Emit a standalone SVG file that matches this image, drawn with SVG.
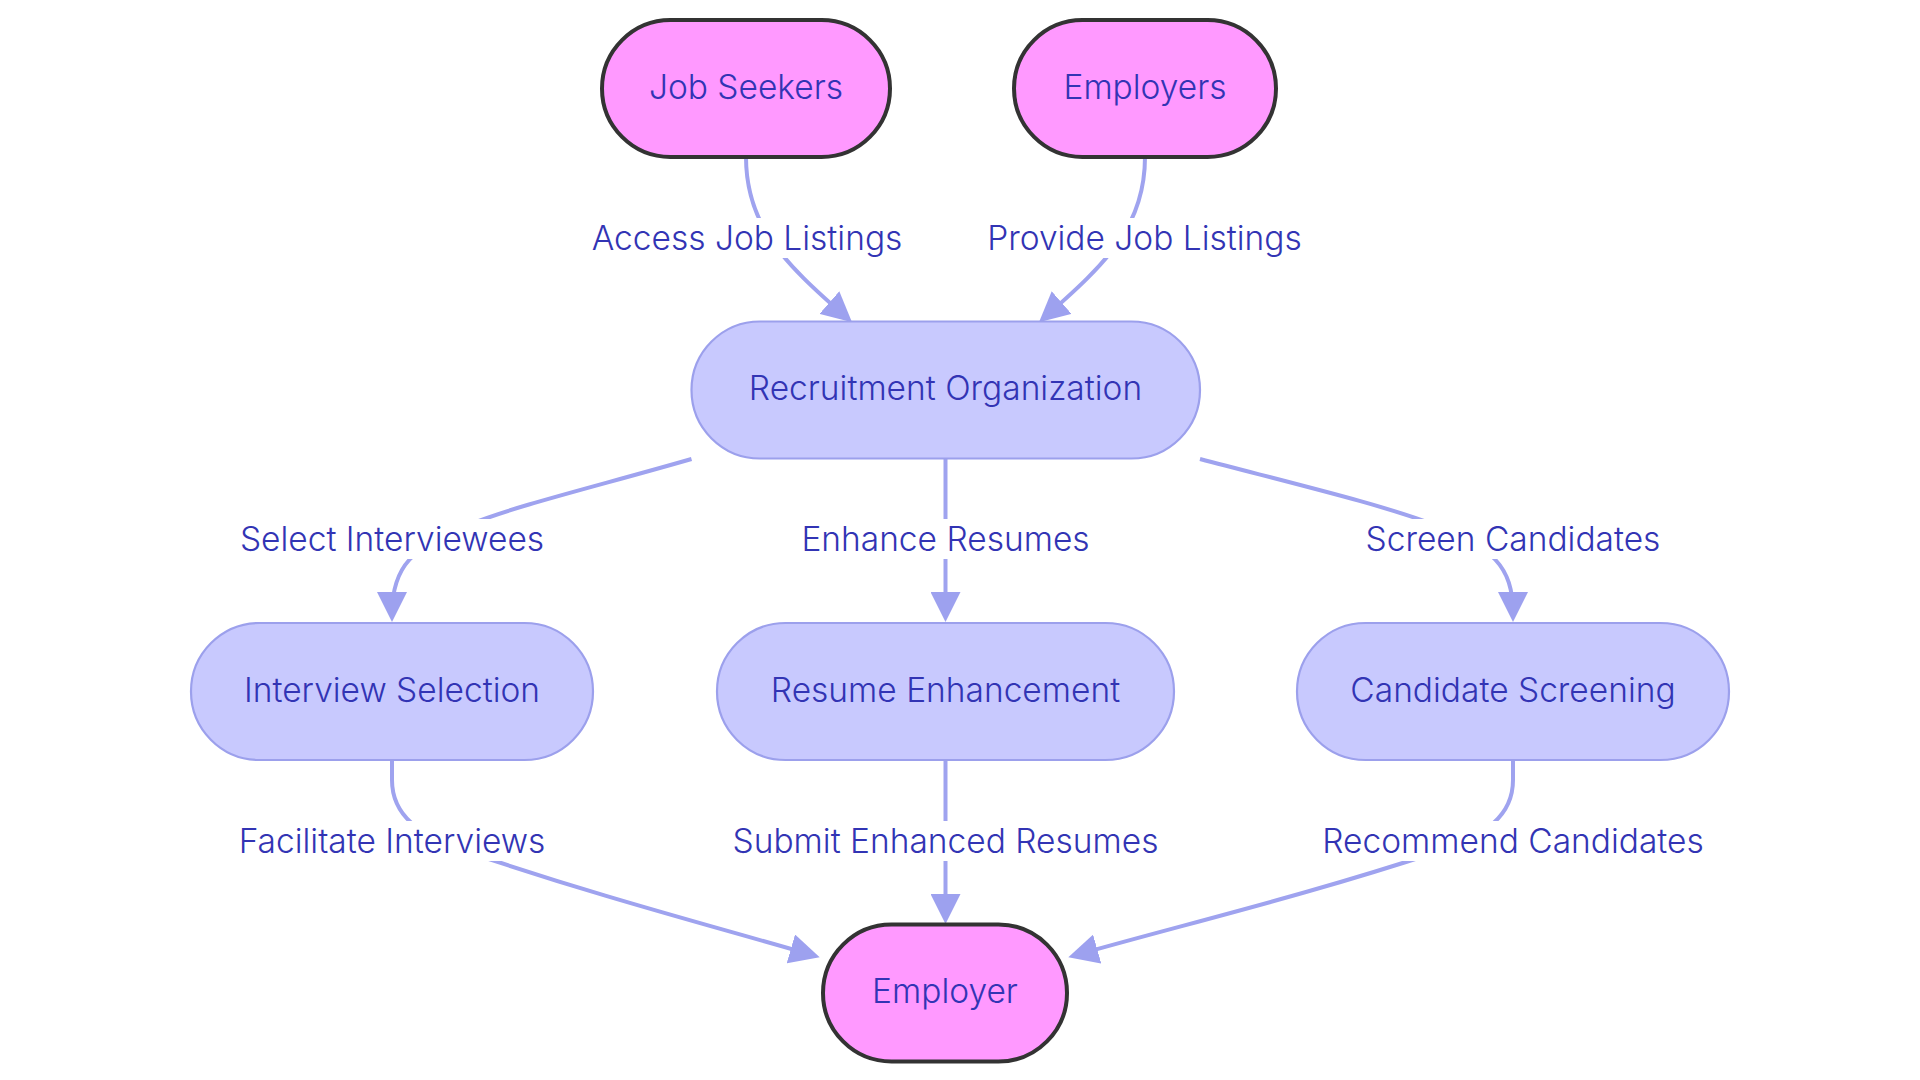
<svg xmlns="http://www.w3.org/2000/svg" width="1920" height="1080" viewBox="0 0 1920 1080">
<style>
  .bg { fill: #ffffff; }
  .pink rect { fill: #ff99ff; stroke: #333333; stroke-width: 4; }
  .lav rect { fill: #c8c9fe; stroke: #9ca0ec; stroke-width: 2.2; }
  text { font-family: Inter, "Liberation Sans", sans-serif; font-size: 33.5px; font-weight: 300; fill: #3234b4; text-anchor: middle; }
  .edge { fill: none; stroke: #9fa3ef; stroke-width: 4; marker-end: url(#arr); }
  .lbl rect { fill: #ffffff; }
</style>
<defs>
  <marker id="arr" markerUnits="userSpaceOnUse" markerWidth="30" markerHeight="30" viewBox="0 0 30 30" refX="22" refY="15" orient="auto">
    <path d="M0,0 L30,15 L0,30 z" fill="#9da1ef"/>
  </marker>
</defs>
<rect class="bg" x="0" y="0" width="1920" height="1080"/>
<g transform="translate(-2,0)">
<g id="edges">
  <path class="edge" d="M748,157 C748,225 785,262 848,317"/>
  <path class="edge" d="M1147,157 C1147,225 1110,262 1047,317"/>
  <path class="edge" d="M693.5,459 C600,486 520,505 470,525 C415,548 394,565 394,614"/>
  <path class="edge" d="M947.5,459 L947.5,614"/>
  <path class="edge" d="M1202,459 C1305,486 1385,505 1437,525 C1494,548 1515,565 1515,614"/>
  <path class="edge" d="M394,761 L394,780 C394,815 420,835 470,852 C600,896 700,922 814,955"/>
  <path class="edge" d="M947.5,761 L947.5,916"/>
  <path class="edge" d="M1515,761 L1515,780 C1515,815 1489,835 1439,852 C1305,896 1195,922 1078,955"/>
</g>

<g id="edge-labels" class="lbl">
  <g id="label-access"><rect x="594" y="218" width="310" height="40"/><text x="749" y="250">Access Job Listings</text></g>
  <g id="label-provide"><rect x="991" y="218" width="312" height="40"/><text x="1146.5" y="250">Provide Job Listings</text></g>
  <g id="label-select"><rect x="236" y="519" width="317" height="40"/><text x="394" y="551">Select Interviewees</text></g>
  <g id="label-enhance"><rect x="799" y="519" width="297" height="40"/><text x="947.5" y="551">Enhance Resumes</text></g>
  <g id="label-screen"><rect x="1362" y="519" width="307" height="40"/><text x="1515" y="551">Screen Candidates</text></g>
  <g id="label-facilitate"><rect x="233" y="821" width="322" height="40"/><text x="394" y="853">Facilitate Interviews</text></g>
  <g id="label-submit"><rect x="731" y="821" width="433" height="40"/><text x="947.5" y="853">Submit Enhanced Resumes</text></g>
  <g id="label-recommend"><rect x="1319" y="821" width="393" height="40"/><text x="1515" y="853">Recommend Candidates</text></g>
</g>

<g id="node-jobseekers" class="pink"><rect x="604" y="20" width="288" height="137" rx="68.5"/><text x="748" y="99">Job Seekers</text></g>
<g id="node-employers" class="pink"><rect x="1016" y="20" width="262" height="137" rx="68.5"/><text x="1147" y="99">Employers</text></g>
<g id="node-recruitment" class="lav"><rect x="693.5" y="321.5" width="508.5" height="137" rx="68.5"/><text x="947.5" y="400">Recruitment Organization</text></g>
<g id="node-interview" class="lav"><rect x="193" y="623" width="402" height="137" rx="68.5"/><text x="394" y="702">Interview Selection</text></g>
<g id="node-resume" class="lav"><rect x="719" y="623" width="457" height="137" rx="68.5"/><text x="947.5" y="702">Resume Enhancement</text></g>
<g id="node-candidate" class="lav"><rect x="1299" y="623" width="432" height="137" rx="68.5"/><text x="1515" y="702">Candidate Screening</text></g>
<g id="node-employer" class="pink"><rect x="825" y="924.5" width="244" height="137" rx="68.5"/><text x="947" y="1003">Employer</text></g>
</g>
</svg>
